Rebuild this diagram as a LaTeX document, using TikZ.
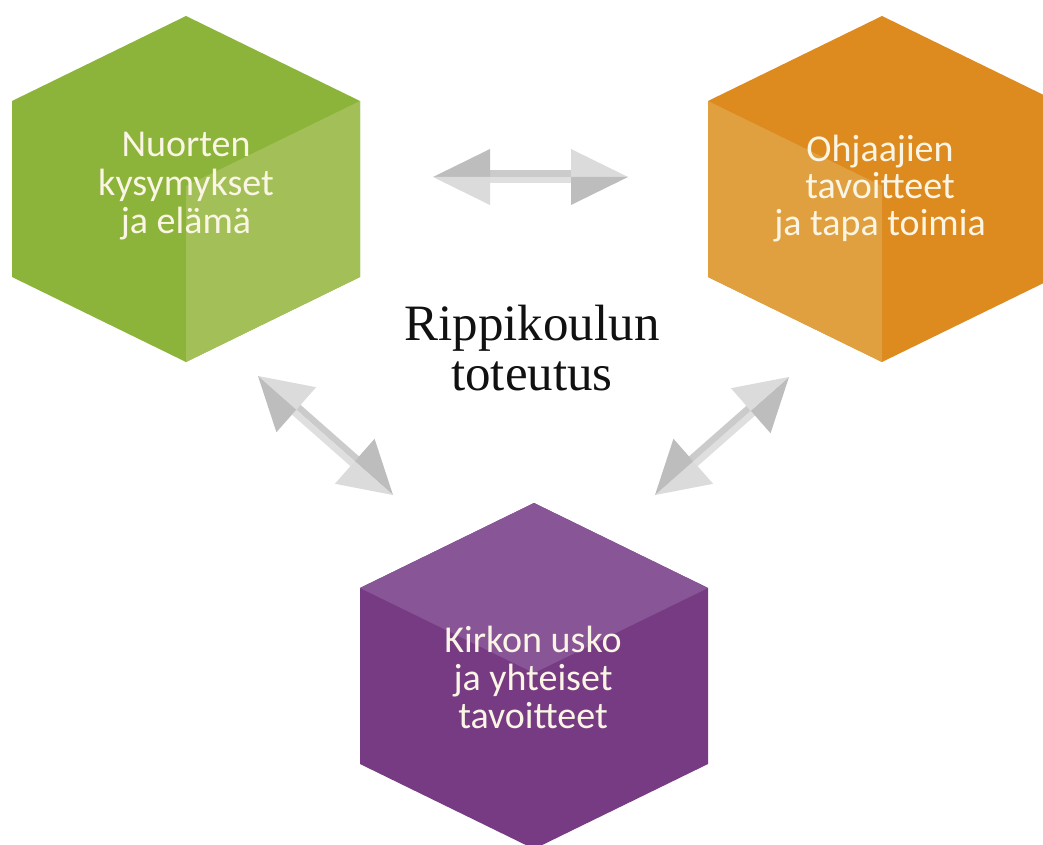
\documentclass[tikz,border=0pt]{standalone}
\usepackage{fontspec}
\setmainfont{Liberation Serif}
\newfontfamily\hexfont{Carlito}
\usetikzlibrary{calc}
\definecolor{gdark}{HTML}{8CB43A}
\definecolor{glight}{HTML}{A3C058}
\definecolor{odark}{HTML}{DD8A1F}
\definecolor{olight}{HTML}{E1A040}
\definecolor{pdark}{HTML}{773B83}
\definecolor{plight}{HTML}{885596}
\definecolor{adark}{HTML}{BDBDBD}
\definecolor{alight}{HTML}{DBDBDB}
\definecolor{sdark}{HTML}{CBCBCB}
\definecolor{slight}{HTML}{DFDFDF}
\definecolor{hextext}{HTML}{FAF5E4}
\definecolor{maintext}{HTML}{111111}
% #1 tip A, #2 tip B, #3/#4 head A left/right, #5/#6 head B left/right, #7/#8 shaft left/right
\newcommand\dblarrow[8]{%
  \coordinate (MA) at ($(#1)!\hl!(#2)$);
  \coordinate (MB) at ($(#2)!\hl!(#1)$);
  \coordinate (MAl) at ($(MA)!\hw!90:(#2)$);
  \coordinate (MAr) at ($(MA)!\hw!-90:(#2)$);
  \coordinate (MBl) at ($(MB)!\hw!-90:(#1)$);
  \coordinate (MBr) at ($(MB)!\hw!90:(#1)$);
  \coordinate (SAl) at ($(MA)!6.5pt!90:(#2)$);
  \coordinate (SAr) at ($(MA)!6.5pt!-90:(#2)$);
  \coordinate (SBl) at ($(MB)!6.5pt!-90:(#1)$);
  \coordinate (SBr) at ($(MB)!6.5pt!90:(#1)$);
  \fill[#7] (MA) -- (SAl) -- (SBl) -- (MB) -- cycle;
  \fill[#8] (MA) -- (SAr) -- (SBr) -- (MB) -- cycle;
  \fill[#3] (#1) -- (MA) -- (MAl) -- cycle;
  \fill[#4] (#1) -- (MA) -- (MAr) -- cycle;
  \fill[#5] (#2) -- (MB) -- (MBl) -- cycle;
  \fill[#6] (#2) -- (MB) -- (MBr) -- cycle;
}
\begin{document}
\begin{tikzpicture}[x=1pt,y=-1pt,
  hexlabel/.style={font=\hexfont\fontsize{38}{38}\selectfont, text=hextext, anchor=base, inner sep=0pt},
  mainlabel/.style={font=\fontsize{51}{51}\selectfont, text=maintext, anchor=base, inner sep=0pt}]
\useasboundingbox (0,0) rectangle (1043,845);
\fill[white] (0,0) rectangle (1043,845);
\clip (0,0) rectangle (1043,845);

% green cube
\coordinate (gT) at (186,16);  \coordinate (gUR) at (360,101);
\coordinate (gLR) at (360,277); \coordinate (gB) at (186,362);
\coordinate (gLL) at (12,277); \coordinate (gUL) at (12,101);
\coordinate (gC) at (186,186);
\fill[gdark] (gT) -- (gUR) -- (gLR) -- (gB) -- (gLL) -- (gUL) -- cycle;
\fill[glight] (gUR) -- (gLR) -- (gB) -- (gC) -- cycle;

% orange cube
\coordinate (oT) at (882,16);  \coordinate (oUR) at (1056,101);
\coordinate (oLR) at (1056,277); \coordinate (oB) at (882,362);
\coordinate (oLL) at (708,277); \coordinate (oUL) at (708,101);
\coordinate (oC) at (882,186);
\fill[odark] (oT) -- (oUR) -- (oLR) -- (oB) -- (oLL) -- (oUL) -- cycle;
\fill[olight] (oUL) -- (oC) -- (oB) -- (oLL) -- cycle;

% purple cube
\coordinate (pT) at (534,503);  \coordinate (pUR) at (708,588);
\coordinate (pLR) at (708,764); \coordinate (pB) at (534,849);
\coordinate (pLL) at (360,764); \coordinate (pUL) at (360,588);
\coordinate (pC) at (534,673);
\fill[pdark] (pT) -- (pUR) -- (pLR) -- (pB) -- (pLL) -- (pUL) -- cycle;
\fill[plight] (pT) -- (pUR) -- (pC) -- (pUL) -- cycle;

% labels
\node[hexlabel] (g1) at (186,157) {Nuorten};
\node[hexlabel] (g2) at (186,195) {kysymykset};
\node[hexlabel] (g3) at (186,233) {ja elämä};
\node[hexlabel] (o1) at (880,162) {Ohjaajien};
\node[hexlabel] (o2) at (880,198) {tavoitteet};
\node[hexlabel] (o3) at (880,235) {ja tapa toimia};
\node[hexlabel] (p1) at (533,652) {Kirkon usko};
\node[hexlabel] (p2) at (533,690) {ja yhteiset};
\node[hexlabel] (p3) at (533,728) {tavoitteet};
\node[mainlabel] (m1) at (532,340) {Rippikoulun};
\node[mainlabel] (m2) at (532,390) {toteutus};

% arrows
\coordinate (t1) at (433,177); \coordinate (t2) at (628,177);
\coordinate (l1) at (258,376); \coordinate (l2) at (393,495);
\coordinate (r1) at (789,377); \coordinate (r2) at (655,495);
\def\hl{57pt}\def\hw{28pt}
\dblarrow{t1}{t2}{adark}{alight}{alight}{adark}{sdark}{slight}
\def\hl{51pt}\def\hw{30pt}
\dblarrow{l1}{l2}{alight}{adark}{adark}{alight}{sdark}{slight}
\dblarrow{r1}{r2}{adark}{alight}{alight}{adark}{slight}{sdark}
\end{tikzpicture}
\end{document}
